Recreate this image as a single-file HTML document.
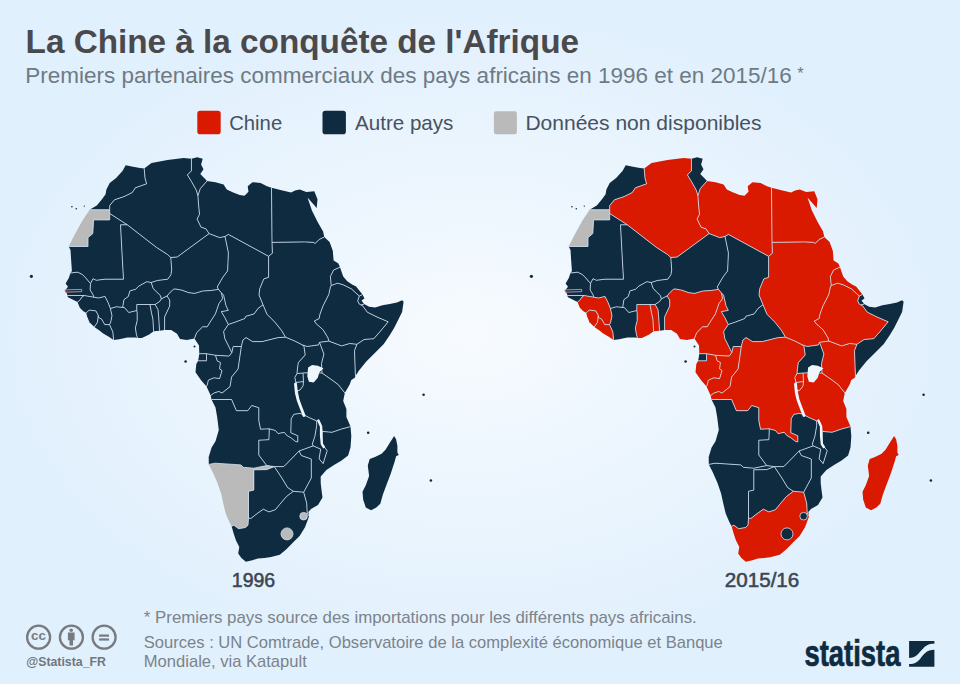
<!DOCTYPE html>
<html><head><meta charset="utf-8"><style>
html,body{margin:0;padding:0;width:960px;height:684px;overflow:hidden}
body{background:radial-gradient(ellipse 50% 48% at 49% 49%, #f7fbff 0%, #eff7fe 35%, #e1f0fd 100%)}
svg{display:block}
</style></head><body>
<svg width="960" height="684" viewBox="0 0 960 684">
<path d="M89.6,209.8 96.8,205.5 101.6,199.8 105.6,194.2 106.4,189.4 109.7,183 116.1,178.1 122.5,170.9 125.7,165.3 133,166.8 140,168 144.2,168.5 145,178.1 146.6,183.8 135.4,187.8 132.2,192.6 124.1,196.6 114.5,199.8 109.7,205.5 109.7,209.8Z" fill="#0f2b40"/>
<path d="M68.7,246.5 74.3,235.2 82.3,220.7 89.6,209.8 109.7,209.8 109.7,213.5 109.7,219.9 93.6,219.9 92.8,233.6 88,237.6 88,246.5Z" fill="#bababa"/>
<path d="M144.2,168.5 151.5,162.9 167.5,160 183.6,158 191.5,158.8 191.4,170.9 187.4,174.9 191.4,181.4 196.3,190.2 197.9,195.8 198.7,206.3 199.5,214.3 197.1,219.1 201.1,227.2 205.9,228.8 209.1,233.6 177.2,257 170.8,257.5 167.5,254.5 156.3,247.3 127.3,224.8 109.7,213.5 109.7,209.8 109.7,205.5 114.5,199.8 124.1,196.6 132.2,192.6 135.4,187.8 146.6,183.8 145,178.1Z" fill="#0f2b40"/>
<path d="M191.5,158.8 197.1,157.2 202.7,158.8 201.1,164.5 203.5,169.3 200.3,174.1 205.9,179.7 207,181 200.3,188.6 197.9,195.8 196.3,190.2 191.4,181.4 187.4,174.9 191.4,170.9Z" fill="#0f2b40"/>
<path d="M207,181 215.5,182.2 223.6,184.6 226.8,189.4 233.2,192.6 239.7,195 244.5,195.8 248.5,191.8 247.7,186.2 252.5,182.2 260.6,183 267,186.2 271.5,187.8 272,242.4 272.4,253.2 268.6,256.3 228.4,234.4 225,236.5 219.6,237.6 209.1,233.6 205.9,228.8 201.1,227.2 197.1,219.1 199.5,214.3 198.7,206.3 197.9,195.8 200.3,188.6Z" fill="#0f2b40"/>
<path d="M271.5,187.8 281.5,190.2 291.1,192.6 295,190.5 299.8,189.6 306.3,192.1 314.3,191.3 317.5,199.3 316.7,208.1 307.5,197.5 311.9,210.5 317.5,221.8 323.1,231.4 324.3,237 319.1,239.5 315.1,243.5 313.6,242.4 304.6,241.9 272,242.4Z" fill="#0f2b40"/>
<path d="M324.3,237 329.6,241.9 332.8,250.7 333.6,260.4 338.4,263.6 340,267.2 333.6,270 330.4,276.5 331.2,285.5 330.4,287 328.8,294.5 323.1,305.7 320,314 319.1,318.6 314.3,321 315.9,323.4 323.1,329.8 328,337.9 328.8,341.1 319.5,342.3 318.4,344.9 307.2,346.5 302.4,344.9 294.3,340.8 285.5,337.2 281.5,330.4 275,322.3 267,314.3 263,304.7 259,295 259.8,288.6 263.8,278.9 268.6,277.3 268.6,256.3 272.4,253.2 272,242.4 304.6,241.9 313.6,242.4 315.1,243.5 319.1,239.5Z" fill="#0f2b40"/>
<path d="M340,267.2 343.2,276.5 347.3,281.3 352.1,284.5 356.1,286.4 362.5,294.5 359.3,296.1 351.3,288.8 343.2,284.8 337.6,283.2 331.2,285.5 330.4,276.5 333.6,270Z" fill="#0f2b40"/>
<path d="M362.5,294.5 364.5,298.5 361.5,300.5 364.1,304.1 361,305 359.3,304.1 357.7,300.9 359.3,296.1Z" fill="#0f2b40"/>
<path d="M331.2,285.5 337.6,283.2 343.2,284.8 351.3,288.8 359.3,296.1 357.7,300.9 359.3,304.1 361,305 362.5,305.7 367.3,312.2 377,317 388.2,321.8 380.2,331.4 373.8,338.7 364.1,339.5 356.9,344.3 349.7,343.5 341.6,345.9 328.8,341.1 328,337.9 323.1,329.8 315.9,323.4 314.3,321 319.1,318.6 320,314 323.1,305.7 328.8,294.5 330.4,287Z" fill="#0f2b40"/>
<path d="M364.1,304.1 369.2,306.8 375.1,307.5 382.4,305.3 389.7,303.9 397,302.4 402.1,300.2 403.6,301.7 402.1,311.9 398.5,319.2 394.1,328 389.7,335.3 383.8,344.1 375.1,352.8 366.3,361.6 359,370.4 355.5,376 355.3,373.2 354.5,350.7 356.9,344.3 364.1,339.5 373.8,338.7 380.2,331.4 388.2,321.8 377,317 367.3,312.2 362.5,305.7 361,305Z" fill="#0f2b40"/>
<path d="M355.5,376 354.5,378.1 351.3,380 349.7,384.5 344.8,392.9 338.4,384.8 332,380 322,373 321.5,363.6 323.9,354 319.5,342.3 328.8,341.1 341.6,345.9 349.7,343.5 356.9,344.3 354.5,350.7 355.3,373.2Z" fill="#0f2b40"/>
<path d="M344.8,392.9 343.2,400.9 346.4,408.9 346.4,417 350.5,426.6 341.6,429 332,432.3 322.3,431.4 321.1,426.6 318.4,420.4 316.7,420.9 309.6,417.8 303.5,414.7 301.2,408.2 298.3,400.6 297.5,391 300,390 303,386 303.5,381.5 303,373 307.9,372.8 322,373 332,380 338.4,384.8Z" fill="#0f2b40"/>
<path d="M319.5,342.3 323.9,354 321.5,363.6 322,373 307.9,372.8 303,373 297,373.5 297.4,369 298.3,362.6 305.2,355 304,346.5 302.4,344.9 307.2,346.5 318.4,344.9Z" fill="#0f2b40"/>
<path d="M297,373.5 303,373 303.5,381.5 296,382.5 294.8,377.5Z" fill="#0f2b40"/>
<path d="M296,382.5 303.5,381.5 303,386 300,390 297.5,391 295.8,387Z" fill="#0f2b40"/>
<path d="M350.5,426.6 351.3,436.3 350.5,447.5 348.1,455.6 341.6,460.4 333.6,465.2 326.4,470 320.7,476.5 320.7,482.9 321.5,490 322.5,497.5 318,505 311,509 308.3,512 309,516 307.2,513 306.7,503.2 303.7,492.2 311.3,478 311.3,459 301.4,455.6 299,451 313.2,445.9 320.7,449.1 319.1,458.8 323.1,463.6 327.2,450.7 324.7,447.5 322,444 322.3,431.4 332,432.3 341.6,429Z" fill="#0f2b40"/>
<path d="M316.7,420.9 318.4,420.4 321.1,426.6 322.3,431.4 322,444 324.7,447.5 327.2,450.7 323.1,463.6 319.1,458.8 320.7,449.1 313.2,445.9 312.3,444.1 314.9,436.2 316.7,425.7Z" fill="#0f2b40"/>
<path d="M269.3,428.8 275.4,430.5 278.1,433.6 284.2,432.3 286.8,435.4 291.2,438 295.6,441.5 297.8,441.9 297.8,435.8 290.8,432.7 291.2,418.7 293.9,414.3 300,413.4 303.5,414.7 309.6,417.8 316.7,420.9 316.7,425.7 314.9,436.2 312.3,444.1 313.2,445.9 299,451 294.2,456.1 283.8,466.6 274.3,466.6 266.7,465.6 258.8,455 258.8,440.2 268.9,439.7Z" fill="#0f2b40"/>
<path d="M274.3,466.6 283.8,466.6 294.2,456.1 299,451 301.4,455.6 311.3,459 311.3,478 303.7,492.2 293.3,491.3 287.6,487.5 281.9,478Z" fill="#0f2b40"/>
<path d="M274.3,466.6 281.9,478 287.6,487.5 293.3,491.3 286.4,496.6 279.8,504.3 275.4,509.7 268.9,511.9 263.4,509.2 257.9,513 250.8,518.5 248.5,518 248.5,508 248.5,491.3 253.8,490.1 253.8,469.8 266.7,469.6Z" fill="#0f2b40"/>
<path d="M231.6,526.3 229.2,521.7 225.7,513.5 223.4,504.1 221.1,493.6 217.5,483.1 212.9,472.5 208.8,464.4 215.2,463.2 240.9,464.9 243.3,467.3 253.8,468.2 266.7,465.6 274.3,466.6 266.7,469.6 253.8,469.8 253.8,490.1 248.5,491.3 248.5,508 248.5,518 248,525.2 245.6,527.5 238.6,528.7 233.9,525.2Z" fill="#bababa"/>
<path d="M309,516 308.3,518.5 305,527.3 299.6,536.1 293,542.6 286.4,549.2 279.8,554.7 271.1,556.9 264.5,558 257.9,558.5 252.4,560.2 245.8,561.8 241.4,558 238.2,553.6 239.3,547 236,540.4 233.8,533.9 231.6,526.3 233.9,525.2 238.6,528.7 245.6,527.5 248,525.2 248.5,518 250.8,518.5 257.9,513 263.4,509.2 268.9,511.9 275.4,509.7 279.8,504.3 286.4,496.6 293.3,491.3 303.7,492.2 306.7,503.2 307.2,513Z" fill="#0f2b40"/>
<path d="M211.5,399.5 215.5,407.5 217.2,417.2 218.8,430 215.5,441.3 211.6,447.6 208.7,457.1 208.8,464.4 215.2,463.2 240.9,464.9 243.3,467.3 253.8,468.2 266.7,465.6 258.8,455 258.8,440.2 268.9,439.7 269.3,428.8 260.5,429.2 258.8,420.4 258.8,407.7 251.8,405.5 247.7,410.7 236.4,410.7 231.6,399.5Z" fill="#0f2b40"/>
<path d="M210.7,395.5 211.5,399.5 231.6,399.5 236.4,410.7 247.7,410.7 251.8,405.5 258.8,407.7 258.8,420.4 260.5,429.2 269.3,428.8 275.4,430.5 278.1,433.6 284.2,432.3 286.8,435.4 291.2,438 295.6,441.5 297.8,441.9 297.8,435.8 290.8,432.7 291.2,418.7 293.9,414.3 300,413.4 303.5,414.7 301.2,408.2 298.3,400.6 297.5,391 295.8,387 296,382.5 294.8,377.5 297,373.5 297.4,369 298.3,362.6 305.2,355 304,346.5 302.4,344.9 294.3,340.8 285.5,337.2 278.2,337.6 262.2,341.6 252.5,341.6 246.1,337.6 242.9,340 241.3,346.5 238.1,368.9 231.6,377 230,386.6 222,393.1 218.8,391.4 213.9,393.1Z" fill="#0f2b40"/>
<path d="M206.5,386.6 210.7,395.5 213.9,393.1 218.8,391.4 222,393.1 230,386.6 231.6,377 238.1,368.9 241.3,346.5 233.2,346.5 231.8,352.6 229.2,356.1 215.5,355.3 217.2,360.9 220.4,362.5 219.6,368.9 222,370.5 219.6,378.6 213.9,377.8 208.3,380.2 207.5,384Z" fill="#0f2b40"/>
<path d="M198.2,360.8 196.3,364.1 195.5,372.2 201.1,380.2 206.5,386.6 207.5,384 208.3,380.2 213.9,377.8 219.6,378.6 222,370.5 219.6,368.9 220.4,362.5 217.2,360.9 215.5,355.3 206.5,353.7 206.5,360.8Z" fill="#0f2b40"/>
<path d="M199.3,353.7 198.2,360.8 206.5,360.8 206.5,353.7Z" fill="#0f2b40"/>
<path d="M194.4,338.5 199,345.6 199.3,353.7 206.5,353.7 215.5,355.3 229.2,356.1 231.8,352.6 229.5,347.9 224.8,338.5 223.6,331.5 228.3,324.5 224.8,317.5 221.3,311.6 228.3,310.4 226,305.8 223.6,295.2 221.5,293 222.5,298.7 219,303.4 215.4,313.9 210.8,321 207.2,326.8 202.6,326.8 196.7,332.7Z" fill="#0f2b40"/>
<path d="M228.3,324.5 235.3,322.1 244.7,318.6 245.9,316.3 254.1,313.9 258,308.5 263,304.7 267,314.3 275,322.3 281.5,330.4 285.5,337.2 278.2,337.6 262.2,341.6 252.5,341.6 246.1,337.6 242.9,340 241.3,346.5 233.2,346.5 231.8,352.6 229.5,347.9 224.8,338.5 223.6,331.5Z" fill="#0f2b40"/>
<path d="M218.5,289.4 217.2,287 222.8,277.3 227.6,270.9 228.4,252.9 225,236.5 228.4,234.4 268.6,256.3 268.6,277.3 263.8,278.9 259.8,288.6 259,295 263,304.7 258,308.5 254.1,313.9 245.9,316.3 244.7,318.6 235.3,322.1 228.3,324.5 224.8,317.5 221.3,311.6 228.3,310.4 226,305.8 223.6,295.2 221.5,293Z" fill="#0f2b40"/>
<path d="M170.8,257.5 177.2,257 209.1,233.6 219.6,237.6 225,236.5 228.4,252.9 227.6,270.9 222.8,277.3 217.2,287 218.5,289.4 210.7,290.5 202.7,291 194.6,293.4 188.4,292.6 182,290.2 175,288.9 173.3,289.3 169.3,293.3 167,296 164,297.5 161.3,298.9 160.5,295.7 156.4,291.7 153.2,288.5 151.2,282.5 157.3,280.5 167.7,279.2 170.9,274.8 171.7,270Z" fill="#0f2b40"/>
<path d="M164.6,330.1 171.2,330.1 177,333.7 180,338.9 186.8,340 194.4,338.5 196.7,332.7 202.6,326.8 207.2,326.8 210.8,321 215.4,313.9 219,303.4 222.5,298.7 221.5,293 218.5,289.4 210.7,290.5 202.7,291 194.6,293.4 188.4,292.6 182,290.2 175,288.9 173.3,289.3 169.3,293.3 167,296 169.7,300 169.7,306 164.6,316.9Z" fill="#0f2b40"/>
<path d="M159.5,330.8 164.6,330.1 164.6,316.9 169.7,306 169.7,300 167,296 164,297.5 161.3,298.9 159.7,301.4 155.1,304.5 158,309.6 158.7,316.9Z" fill="#0f2b40"/>
<path d="M153.6,331.2 159.5,330.8 158.7,316.9 158,309.6 155.1,304.5 150,304.5 151.4,312.5 152.9,319.1Z" fill="#0f2b40"/>
<path d="M137.5,338.1 141.9,338.1 149.2,334.5 153.6,331.2 152.9,319.1 151.4,312.5 150,304.5 136.8,304.5 136.8,310.5 137.2,313.3 137.2,320.6 135.4,327.9 136.4,334.5Z" fill="#0f2b40"/>
<path d="M122.7,307.4 123.9,299.7 128.3,296.5 129.9,290.9 135.5,289.3 138.8,286.1 146.8,281.7 151.2,282.5 153.2,288.5 156.4,291.7 160.5,295.7 161.3,298.9 159.7,301.4 155.1,304.5 150,304.5 136.8,304.5 136.8,310.5 128.8,312.5 124.4,307.6Z" fill="#0f2b40"/>
<path d="M113.6,339.9 119.3,339.2 127.3,337.6 135.4,337.6 137.5,338.1 136.4,334.5 135.4,327.9 137.2,320.6 137.2,313.3 136.8,310.5 128.8,312.5 124.4,307.6 122.7,307.4 116.3,306.8 110.4,308.5 112,315.7 110.6,322.5 109.5,324.6 112.8,331.8Z" fill="#0f2b40"/>
<path d="M94.3,327 99.1,330.2 103.2,333.4 108.8,336.7 113.6,339.9 112.8,331.8 109.5,324.6 104.8,324.6 101.5,319 98.3,317.4 98.3,315.5 97.5,322.2Z" fill="#0f2b40"/>
<path d="M86.3,313 87.1,316.5 89.5,322.2 94.3,327 97.5,322.2 98.3,315.5 95.9,310.9 89.5,310.1 87.5,311.5Z" fill="#0f2b40"/>
<path d="M77.5,302 79.8,307.7 83,310.9 86.3,313 87.5,311.5 89.5,310.1 95.9,310.9 98.3,315.5 98.3,317.4 101.5,319 104.8,324.6 109.5,324.6 110.6,322.5 112,315.7 110.4,308.5 108.2,302.8 105,296.4 98.6,298 93.8,297.2 84.1,295.5 82,297 79.5,300.5Z" fill="#0f2b40"/>
<path d="M77.5,302 68,297.2 67.2,295.5 84.1,295.5 82,297 79.5,300.5Z" fill="#0f2b40"/>
<path d="M67.2,295.5 67.2,293.9 64.8,290.7 68,286.7 65.6,283.5 68.8,277.9 70.5,273 77.7,272.2 82.5,274.6 85.7,277.9 90.5,283.5 90.1,289.9 93,294.7 93.8,297.2 84.1,295.5Z" fill="#0f2b40"/>
<path d="M127.3,224.8 156.3,247.3 167.5,254.5 170.8,257.5 171.7,270 170.9,274.8 167.7,279.2 157.3,280.5 151.2,282.5 146.8,281.7 138.8,286.1 135.5,289.3 129.9,290.9 128.3,296.5 123.9,299.7 122.7,307.4 116.3,306.8 110.4,308.5 108.2,302.8 105,296.4 98.6,298 93.8,297.2 93,294.7 90.1,289.9 90.5,283.5 93,278.7 96.2,280.3 105,279.2 123.5,279.2 122.5,262 120.5,224.8Z" fill="#0f2b40"/>
<path d="M68.7,246.5 70.5,250 71.1,259.6 71.9,270.9 70.5,273 77.7,272.2 82.5,274.6 85.7,277.9 90.5,283.5 93,278.7 96.2,280.3 105,279.2 123.5,279.2 122.5,262 120.5,224.8 127.3,224.8 109.7,213.5 109.7,219.9 93.6,219.9 92.8,233.6 88,237.6 88,246.5Z" fill="#0f2b40"/>
<circle cx="287" cy="533.9" r="6" fill="#bababa"/>
<circle cx="303.6" cy="516.2" r="3.8" fill="#bababa"/>
<path d="M144.2,168.5 145,178.1 146.6,183.8 135.4,187.8 132.2,192.6 124.1,196.6 114.5,199.8 109.7,205.5 109.7,209.8 M89.6,209.8 109.7,209.8 M109.7,209.8 109.7,213.5 M109.7,213.5 109.7,219.9 93.6,219.9 92.8,233.6 88,237.6 88,246.5 68.7,246.5 M109.7,213.5 127.3,224.8 M127.3,224.8 120.5,224.8 122.5,262 123.5,279.2 105,279.2 96.2,280.3 93,278.7 90.5,283.5 M127.3,224.8 156.3,247.3 167.5,254.5 170.8,257.5 M70.5,273 77.7,272.2 82.5,274.6 85.7,277.9 90.5,283.5 M90.5,283.5 90.1,289.9 93,294.7 93.8,297.2 M67.2,295.5 84.1,295.5 M84.1,295.5 93.8,297.2 M84.1,295.5 82,297 79.5,300.5 77.5,302 M93.8,297.2 98.6,298 105,296.4 108.2,302.8 110.4,308.5 M110.4,308.5 112,315.7 110.6,322.5 109.5,324.6 M86.3,313 87.5,311.5 89.5,310.1 95.9,310.9 98.3,315.5 M98.3,315.5 97.5,322.2 94.3,327 M98.3,315.5 98.3,317.4 101.5,319 104.8,324.6 109.5,324.6 M109.5,324.6 112.8,331.8 113.6,339.9 M110.4,308.5 116.3,306.8 122.7,307.4 M122.7,307.4 123.9,299.7 128.3,296.5 129.9,290.9 135.5,289.3 138.8,286.1 146.8,281.7 151.2,282.5 M122.7,307.4 124.4,307.6 128.8,312.5 136.8,310.5 M136.8,310.5 137.2,313.3 137.2,320.6 135.4,327.9 136.4,334.5 137.5,338.1 M136.8,310.5 136.8,304.5 150,304.5 M150,304.5 151.4,312.5 152.9,319.1 153.6,331.2 M150,304.5 155.1,304.5 M155.1,304.5 158,309.6 158.7,316.9 159.5,330.8 M155.1,304.5 159.7,301.4 161.3,298.9 M151.2,282.5 153.2,288.5 156.4,291.7 160.5,295.7 161.3,298.9 M161.3,298.9 164,297.5 167,296 M167,296 169.7,300 169.7,306 164.6,316.9 164.6,330.1 M170.8,257.5 171.7,270 170.9,274.8 167.7,279.2 157.3,280.5 151.2,282.5 M170.8,257.5 177.2,257 209.1,233.6 M191.5,158.8 191.4,170.9 187.4,174.9 191.4,181.4 196.3,190.2 197.9,195.8 M207,181 200.3,188.6 197.9,195.8 M197.9,195.8 198.7,206.3 199.5,214.3 197.1,219.1 201.1,227.2 205.9,228.8 209.1,233.6 M209.1,233.6 219.6,237.6 225,236.5 M225,236.5 228.4,234.4 268.6,256.3 M268.6,256.3 272.4,253.2 272,242.4 M271.5,187.8 272,242.4 M272,242.4 304.6,241.9 313.6,242.4 315.1,243.5 319.1,239.5 324.3,237 M167,296 169.3,293.3 173.3,289.3 175,288.9 182,290.2 188.4,292.6 194.6,293.4 202.7,291 210.7,290.5 218.5,289.4 M225,236.5 228.4,252.9 227.6,270.9 222.8,277.3 217.2,287 218.5,289.4 M268.6,256.3 268.6,277.3 263.8,278.9 259.8,288.6 259,295 263,304.7 M218.5,289.4 221.5,293 M221.5,293 222.5,298.7 219,303.4 215.4,313.9 210.8,321 207.2,326.8 202.6,326.8 196.7,332.7 194.4,338.5 M221.5,293 223.6,295.2 226,305.8 228.3,310.4 221.3,311.6 224.8,317.5 228.3,324.5 M228.3,324.5 235.3,322.1 244.7,318.6 245.9,316.3 254.1,313.9 258,308.5 263,304.7 M263,304.7 267,314.3 275,322.3 281.5,330.4 285.5,337.2 M228.3,324.5 223.6,331.5 224.8,338.5 229.5,347.9 231.8,352.6 M231.8,352.6 233.2,346.5 241.3,346.5 M241.3,346.5 242.9,340 246.1,337.6 252.5,341.6 262.2,341.6 278.2,337.6 285.5,337.2 M285.5,337.2 294.3,340.8 302.4,344.9 M302.4,344.9 307.2,346.5 318.4,344.9 319.5,342.3 M319.5,342.3 328.8,341.1 M328.8,341.1 328,337.9 323.1,329.8 315.9,323.4 314.3,321 319.1,318.6 320,314 323.1,305.7 328.8,294.5 330.4,287 331.2,285.5 M331.2,285.5 330.4,276.5 333.6,270 340,267.2 M331.2,285.5 337.6,283.2 343.2,284.8 351.3,288.8 359.3,296.1 M359.3,296.1 362.5,294.5 M359.3,296.1 357.7,300.9 359.3,304.1 361,305 M361,305 364.1,304.1 M361,305 362.5,305.7 367.3,312.2 377,317 388.2,321.8 380.2,331.4 373.8,338.7 364.1,339.5 356.9,344.3 M328.8,341.1 341.6,345.9 349.7,343.5 356.9,344.3 M356.9,344.3 354.5,350.7 355.3,373.2 355.5,376 M319.5,342.3 323.9,354 321.5,363.6 322,373 M322,373 332,380 338.4,384.8 344.8,392.9 M322,373 307.9,372.8 303,373 M302.4,344.9 304,346.5 305.2,355 298.3,362.6 297.4,369 297,373.5 M297,373.5 303,373 M303,373 303.5,381.5 M303.5,381.5 296,382.5 M297,373.5 294.8,377.5 296,382.5 M296,382.5 295.8,387 297.5,391 M303.5,381.5 303,386 300,390 297.5,391 M199.3,353.7 206.5,353.7 M206.5,353.7 206.5,360.8 198.2,360.8 M206.5,353.7 215.5,355.3 M215.5,355.3 229.2,356.1 231.8,352.6 M215.5,355.3 217.2,360.9 220.4,362.5 219.6,368.9 222,370.5 219.6,378.6 213.9,377.8 208.3,380.2 207.5,384 206.5,386.6 M241.3,346.5 238.1,368.9 231.6,377 230,386.6 222,393.1 218.8,391.4 213.9,393.1 210.7,395.5 M211.5,399.5 231.6,399.5 236.4,410.7 247.7,410.7 251.8,405.5 258.8,407.7 258.8,420.4 260.5,429.2 269.3,428.8 M269.3,428.8 275.4,430.5 278.1,433.6 284.2,432.3 286.8,435.4 291.2,438 295.6,441.5 297.8,441.9 297.8,435.8 290.8,432.7 291.2,418.7 293.9,414.3 300,413.4 303.5,414.7 M297.5,391 298.3,400.6 301.2,408.2 303.5,414.7 M303.5,414.7 309.6,417.8 316.7,420.9 M316.7,420.9 316.7,425.7 314.9,436.2 312.3,444.1 313.2,445.9 M316.7,420.9 318.4,420.4 321.1,426.6 322.3,431.4 M322.3,431.4 332,432.3 341.6,429 350.5,426.6 M322.3,431.4 322,444 324.7,447.5 327.2,450.7 323.1,463.6 319.1,458.8 320.7,449.1 313.2,445.9 M313.2,445.9 299,451 M299,451 294.2,456.1 283.8,466.6 274.3,466.6 M299,451 301.4,455.6 311.3,459 311.3,478 303.7,492.2 M274.3,466.6 281.9,478 287.6,487.5 293.3,491.3 M293.3,491.3 303.7,492.2 M269.3,428.8 268.9,439.7 258.8,440.2 258.8,455 266.7,465.6 M208.8,464.4 215.2,463.2 240.9,464.9 243.3,467.3 253.8,468.2 266.7,465.6 M266.7,465.6 274.3,466.6 M274.3,466.6 266.7,469.6 253.8,469.8 253.8,490.1 248.5,491.3 248.5,508 248.5,518 M248.5,518 248,525.2 245.6,527.5 238.6,528.7 233.9,525.2 231.6,526.3 M248.5,518 250.8,518.5 257.9,513 263.4,509.2 268.9,511.9 275.4,509.7 279.8,504.3 286.4,496.6 293.3,491.3 M303.7,492.2 306.7,503.2 307.2,513 309,516 M281,533.9a6,6 0 1,0 12,0a6,6 0 1,0 -12,0 M299.8,516.2a3.8,3.8 0 1,0 7.6,0a3.8,3.8 0 1,0 -7.6,0" fill="none" stroke="#cfe0f2" stroke-opacity="0.82" stroke-width="1" stroke-linejoin="round"/>
<path d="M64.8,289.9 L81.7,289.4 L81.7,291.6 L65.5,292.2Z" fill="#0f2b40" stroke="#f0a0a8" stroke-width="0.8"/>
<path d="M308.1,367.4 L312.1,364.9 L317.8,365.7 L323.4,368.2 L319.4,372.2 L317.8,377.8 L313.7,382.6 L308.9,381.8 L307.3,376.2Z" fill="#eef6fe"/>
<path d="M295.5,384 L296.4,393 L298.3,400.6 L301.2,408.2 L304,415.5" fill="none" stroke="#eef6fe" stroke-width="2.9" stroke-linecap="round"/>
<path d="M318.4,420.6 L321.1,426.6 L321.1,435.4 L321.9,444.1 L323.8,447" fill="none" stroke="#eef6fe" stroke-width="2.4" stroke-linecap="round"/>
<circle cx="31.4" cy="276.3" r="1.6" fill="#0f2b40"/>
<circle cx="185.6" cy="361.5" r="1.3" fill="#0f2b40"/>
<circle cx="194.5" cy="346.5" r="1.0" fill="#0f2b40"/>
<circle cx="368.2" cy="432.7" r="1.3" fill="#0f2b40"/>
<circle cx="423.6" cy="394.8" r="1.3" fill="#0f2b40"/>
<circle cx="430.9" cy="480.5" r="1.3" fill="#0f2b40"/>
<circle cx="71.9" cy="206.8" r="0.8" fill="#0f2b40"/>
<circle cx="76.3" cy="208.7" r="0.8" fill="#0f2b40"/>
<circle cx="84.3" cy="206.1" r="0.7" fill="#0f2b40"/>
<path d="M394.1,435.9 396.1,439.2 397.4,445.8 397.4,452.4 398.7,455 396.1,456.3 394.7,461.6 390.8,473.4 386.8,483.9 382.9,494.5 380.3,503.7 376.3,507.6 371.1,510.3 365.8,507.6 363.2,499.7 362.5,491.8 365.8,485.3 369.1,476.1 367.8,465.5 369.7,458.9 375,457 381.6,453.7 385.5,449.7 389.5,443.2 392.1,439.2Z" fill="#0f2b40"/>
<path d="M589.6,209.8 596.8,205.5 601.6,199.8 605.6,194.2 606.4,189.4 609.7,183 616.1,178.1 622.5,170.9 625.7,165.3 633,166.8 640,168 644.2,168.5 645,178.1 646.6,183.8 635.4,187.8 632.2,192.6 624.1,196.6 614.5,199.8 609.7,205.5 609.7,209.8Z" fill="#0f2b40"/>
<path d="M568.7,246.5 574.3,235.2 582.3,220.7 589.6,209.8 609.7,209.8 609.7,213.5 609.7,219.9 593.6,219.9 592.8,233.6 588,237.6 588,246.5Z" fill="#bababa"/>
<path d="M644.2,168.5 651.5,162.9 667.5,160 683.6,158 691.5,158.8 691.4,170.9 687.4,174.9 691.4,181.4 696.3,190.2 697.9,195.8 698.7,206.3 699.5,214.3 697.1,219.1 701.1,227.2 705.9,228.8 709.1,233.6 677.2,257 670.8,257.5 667.5,254.5 656.3,247.3 627.3,224.8 609.7,213.5 609.7,209.8 609.7,205.5 614.5,199.8 624.1,196.6 632.2,192.6 635.4,187.8 646.6,183.8 645,178.1Z" fill="#d91a00"/>
<path d="M691.5,158.8 697.1,157.2 702.7,158.8 701.1,164.5 703.5,169.3 700.3,174.1 705.9,179.7 707,181 700.3,188.6 697.9,195.8 696.3,190.2 691.4,181.4 687.4,174.9 691.4,170.9Z" fill="#0f2b40"/>
<path d="M707,181 715.5,182.2 723.6,184.6 726.8,189.4 733.2,192.6 739.7,195 744.5,195.8 748.5,191.8 747.7,186.2 752.5,182.2 760.6,183 767,186.2 771.5,187.8 772,242.4 772.4,253.2 768.6,256.3 728.4,234.4 725,236.5 719.6,237.6 709.1,233.6 705.9,228.8 701.1,227.2 697.1,219.1 699.5,214.3 698.7,206.3 697.9,195.8 700.3,188.6Z" fill="#d91a00"/>
<path d="M771.5,187.8 781.5,190.2 791.1,192.6 795,190.5 799.8,189.6 806.3,192.1 814.3,191.3 817.5,199.3 816.7,208.1 807.5,197.5 811.9,210.5 817.5,221.8 823.1,231.4 824.3,237 819.1,239.5 815.1,243.5 813.6,242.4 804.6,241.9 772,242.4Z" fill="#d91a00"/>
<path d="M824.3,237 829.6,241.9 832.8,250.7 833.6,260.4 838.4,263.6 840,267.2 833.6,270 830.4,276.5 831.2,285.5 830.4,287 828.8,294.5 823.1,305.7 820,314 819.1,318.6 814.3,321 815.9,323.4 823.1,329.8 828,337.9 828.8,341.1 819.5,342.3 818.4,344.9 807.2,346.5 802.4,344.9 794.3,340.8 785.5,337.2 781.5,330.4 775,322.3 767,314.3 763,304.7 759,295 759.8,288.6 763.8,278.9 768.6,277.3 768.6,256.3 772.4,253.2 772,242.4 804.6,241.9 813.6,242.4 815.1,243.5 819.1,239.5Z" fill="#d91a00"/>
<path d="M840,267.2 843.2,276.5 847.3,281.3 852.1,284.5 856.1,286.4 862.5,294.5 859.3,296.1 851.3,288.8 843.2,284.8 837.6,283.2 831.2,285.5 830.4,276.5 833.6,270Z" fill="#d91a00"/>
<path d="M862.5,294.5 864.5,298.5 861.5,300.5 864.1,304.1 861,305 859.3,304.1 857.7,300.9 859.3,296.1Z" fill="#0f2b40"/>
<path d="M831.2,285.5 837.6,283.2 843.2,284.8 851.3,288.8 859.3,296.1 857.7,300.9 859.3,304.1 861,305 862.5,305.7 867.3,312.2 877,317 888.2,321.8 880.2,331.4 873.8,338.7 864.1,339.5 856.9,344.3 849.7,343.5 841.6,345.9 828.8,341.1 828,337.9 823.1,329.8 815.9,323.4 814.3,321 819.1,318.6 820,314 823.1,305.7 828.8,294.5 830.4,287Z" fill="#d91a00"/>
<path d="M864.1,304.1 869.2,306.8 875.1,307.5 882.4,305.3 889.7,303.9 897,302.4 902.1,300.2 903.6,301.7 902.1,311.9 898.5,319.2 894.1,328 889.7,335.3 883.8,344.1 875.1,352.8 866.3,361.6 859,370.4 855.5,376 855.3,373.2 854.5,350.7 856.9,344.3 864.1,339.5 873.8,338.7 880.2,331.4 888.2,321.8 877,317 867.3,312.2 862.5,305.7 861,305Z" fill="#0f2b40"/>
<path d="M855.5,376 854.5,378.1 851.3,380 849.7,384.5 844.8,392.9 838.4,384.8 832,380 822,373 821.5,363.6 823.9,354 819.5,342.3 828.8,341.1 841.6,345.9 849.7,343.5 856.9,344.3 854.5,350.7 855.3,373.2Z" fill="#d91a00"/>
<path d="M844.8,392.9 843.2,400.9 846.4,408.9 846.4,417 850.5,426.6 841.6,429 832,432.3 822.3,431.4 821.1,426.6 818.4,420.4 816.7,420.9 809.6,417.8 803.5,414.7 801.2,408.2 798.3,400.6 797.5,391 800,390 803,386 803.5,381.5 803,373 807.9,372.8 822,373 832,380 838.4,384.8Z" fill="#d91a00"/>
<path d="M819.5,342.3 823.9,354 821.5,363.6 822,373 807.9,372.8 803,373 797,373.5 797.4,369 798.3,362.6 805.2,355 804,346.5 802.4,344.9 807.2,346.5 818.4,344.9Z" fill="#0f2b40"/>
<path d="M797,373.5 803,373 803.5,381.5 796,382.5 794.8,377.5Z" fill="#d91a00"/>
<path d="M796,382.5 803.5,381.5 803,386 800,390 797.5,391 795.8,387Z" fill="#d91a00"/>
<path d="M850.5,426.6 851.3,436.3 850.5,447.5 848.1,455.6 841.6,460.4 833.6,465.2 826.4,470 820.7,476.5 820.7,482.9 821.5,490 822.5,497.5 818,505 811,509 808.3,512 809,516 807.2,513 806.7,503.2 803.7,492.2 811.3,478 811.3,459 801.4,455.6 799,451 813.2,445.9 820.7,449.1 819.1,458.8 823.1,463.6 827.2,450.7 824.7,447.5 822,444 822.3,431.4 832,432.3 841.6,429Z" fill="#0f2b40"/>
<path d="M816.7,420.9 818.4,420.4 821.1,426.6 822.3,431.4 822,444 824.7,447.5 827.2,450.7 823.1,463.6 819.1,458.8 820.7,449.1 813.2,445.9 812.3,444.1 814.9,436.2 816.7,425.7Z" fill="#0f2b40"/>
<path d="M769.3,428.8 775.4,430.5 778.1,433.6 784.2,432.3 786.8,435.4 791.2,438 795.6,441.5 797.8,441.9 797.8,435.8 790.8,432.7 791.2,418.7 793.9,414.3 800,413.4 803.5,414.7 809.6,417.8 816.7,420.9 816.7,425.7 814.9,436.2 812.3,444.1 813.2,445.9 799,451 794.2,456.1 783.8,466.6 774.3,466.6 766.7,465.6 758.8,455 758.8,440.2 768.9,439.7Z" fill="#0f2b40"/>
<path d="M774.3,466.6 783.8,466.6 794.2,456.1 799,451 801.4,455.6 811.3,459 811.3,478 803.7,492.2 793.3,491.3 787.6,487.5 781.9,478Z" fill="#0f2b40"/>
<path d="M774.3,466.6 781.9,478 787.6,487.5 793.3,491.3 786.4,496.6 779.8,504.3 775.4,509.7 768.9,511.9 763.4,509.2 757.9,513 750.8,518.5 748.5,518 748.5,508 748.5,491.3 753.8,490.1 753.8,469.8 766.7,469.6Z" fill="#0f2b40"/>
<path d="M731.6,526.3 729.2,521.7 725.7,513.5 723.4,504.1 721.1,493.6 717.5,483.1 712.9,472.5 708.8,464.4 715.2,463.2 740.9,464.9 743.3,467.3 753.8,468.2 766.7,465.6 774.3,466.6 766.7,469.6 753.8,469.8 753.8,490.1 748.5,491.3 748.5,508 748.5,518 748,525.2 745.6,527.5 738.6,528.7 733.9,525.2Z" fill="#0f2b40"/>
<path d="M809,516 808.3,518.5 805,527.3 799.6,536.1 793,542.6 786.4,549.2 779.8,554.7 771.1,556.9 764.5,558 757.9,558.5 752.4,560.2 745.8,561.8 741.4,558 738.2,553.6 739.3,547 736,540.4 733.8,533.9 731.6,526.3 733.9,525.2 738.6,528.7 745.6,527.5 748,525.2 748.5,518 750.8,518.5 757.9,513 763.4,509.2 768.9,511.9 775.4,509.7 779.8,504.3 786.4,496.6 793.3,491.3 803.7,492.2 806.7,503.2 807.2,513Z" fill="#d91a00"/>
<path d="M711.5,399.5 715.5,407.5 717.2,417.2 718.8,430 715.5,441.3 711.6,447.6 708.7,457.1 708.8,464.4 715.2,463.2 740.9,464.9 743.3,467.3 753.8,468.2 766.7,465.6 758.8,455 758.8,440.2 768.9,439.7 769.3,428.8 760.5,429.2 758.8,420.4 758.8,407.7 751.8,405.5 747.7,410.7 736.4,410.7 731.6,399.5Z" fill="#0f2b40"/>
<path d="M710.7,395.5 711.5,399.5 731.6,399.5 736.4,410.7 747.7,410.7 751.8,405.5 758.8,407.7 758.8,420.4 760.5,429.2 769.3,428.8 775.4,430.5 778.1,433.6 784.2,432.3 786.8,435.4 791.2,438 795.6,441.5 797.8,441.9 797.8,435.8 790.8,432.7 791.2,418.7 793.9,414.3 800,413.4 803.5,414.7 801.2,408.2 798.3,400.6 797.5,391 795.8,387 796,382.5 794.8,377.5 797,373.5 797.4,369 798.3,362.6 805.2,355 804,346.5 802.4,344.9 794.3,340.8 785.5,337.2 778.2,337.6 762.2,341.6 752.5,341.6 746.1,337.6 742.9,340 741.3,346.5 738.1,368.9 731.6,377 730,386.6 722,393.1 718.8,391.4 713.9,393.1Z" fill="#d91a00"/>
<path d="M706.5,386.6 710.7,395.5 713.9,393.1 718.8,391.4 722,393.1 730,386.6 731.6,377 738.1,368.9 741.3,346.5 733.2,346.5 731.8,352.6 729.2,356.1 715.5,355.3 717.2,360.9 720.4,362.5 719.6,368.9 722,370.5 719.6,378.6 713.9,377.8 708.3,380.2 707.5,384Z" fill="#d91a00"/>
<path d="M698.2,360.8 696.3,364.1 695.5,372.2 701.1,380.2 706.5,386.6 707.5,384 708.3,380.2 713.9,377.8 719.6,378.6 722,370.5 719.6,368.9 720.4,362.5 717.2,360.9 715.5,355.3 706.5,353.7 706.5,360.8Z" fill="#d91a00"/>
<path d="M699.3,353.7 698.2,360.8 706.5,360.8 706.5,353.7Z" fill="#0f2b40"/>
<path d="M694.4,338.5 699,345.6 699.3,353.7 706.5,353.7 715.5,355.3 729.2,356.1 731.8,352.6 729.5,347.9 724.8,338.5 723.6,331.5 728.3,324.5 724.8,317.5 721.3,311.6 728.3,310.4 726,305.8 723.6,295.2 721.5,293 722.5,298.7 719,303.4 715.4,313.9 710.8,321 707.2,326.8 702.6,326.8 696.7,332.7Z" fill="#d91a00"/>
<path d="M728.3,324.5 735.3,322.1 744.7,318.6 745.9,316.3 754.1,313.9 758,308.5 763,304.7 767,314.3 775,322.3 781.5,330.4 785.5,337.2 778.2,337.6 762.2,341.6 752.5,341.6 746.1,337.6 742.9,340 741.3,346.5 733.2,346.5 731.8,352.6 729.5,347.9 724.8,338.5 723.6,331.5Z" fill="#0f2b40"/>
<path d="M718.5,289.4 717.2,287 722.8,277.3 727.6,270.9 728.4,252.9 725,236.5 728.4,234.4 768.6,256.3 768.6,277.3 763.8,278.9 759.8,288.6 759,295 763,304.7 758,308.5 754.1,313.9 745.9,316.3 744.7,318.6 735.3,322.1 728.3,324.5 724.8,317.5 721.3,311.6 728.3,310.4 726,305.8 723.6,295.2 721.5,293Z" fill="#0f2b40"/>
<path d="M670.8,257.5 677.2,257 709.1,233.6 719.6,237.6 725,236.5 728.4,252.9 727.6,270.9 722.8,277.3 717.2,287 718.5,289.4 710.7,290.5 702.7,291 694.6,293.4 688.4,292.6 682,290.2 675,288.9 673.3,289.3 669.3,293.3 667,296 664,297.5 661.3,298.9 660.5,295.7 656.4,291.7 653.2,288.5 651.2,282.5 657.3,280.5 667.7,279.2 670.9,274.8 671.7,270Z" fill="#0f2b40"/>
<path d="M664.6,330.1 671.2,330.1 677,333.7 680,338.9 686.8,340 694.4,338.5 696.7,332.7 702.6,326.8 707.2,326.8 710.8,321 715.4,313.9 719,303.4 722.5,298.7 721.5,293 718.5,289.4 710.7,290.5 702.7,291 694.6,293.4 688.4,292.6 682,290.2 675,288.9 673.3,289.3 669.3,293.3 667,296 669.7,300 669.7,306 664.6,316.9Z" fill="#d91a00"/>
<path d="M659.5,330.8 664.6,330.1 664.6,316.9 669.7,306 669.7,300 667,296 664,297.5 661.3,298.9 659.7,301.4 655.1,304.5 658,309.6 658.7,316.9Z" fill="#0f2b40"/>
<path d="M653.6,331.2 659.5,330.8 658.7,316.9 658,309.6 655.1,304.5 650,304.5 651.4,312.5 652.9,319.1Z" fill="#d91a00"/>
<path d="M637.5,338.1 641.9,338.1 649.2,334.5 653.6,331.2 652.9,319.1 651.4,312.5 650,304.5 636.8,304.5 636.8,310.5 637.2,313.3 637.2,320.6 635.4,327.9 636.4,334.5Z" fill="#d91a00"/>
<path d="M622.7,307.4 623.9,299.7 628.3,296.5 629.9,290.9 635.5,289.3 638.8,286.1 646.8,281.7 651.2,282.5 653.2,288.5 656.4,291.7 660.5,295.7 661.3,298.9 659.7,301.4 655.1,304.5 650,304.5 636.8,304.5 636.8,310.5 628.8,312.5 624.4,307.6Z" fill="#0f2b40"/>
<path d="M613.6,339.9 619.3,339.2 627.3,337.6 635.4,337.6 637.5,338.1 636.4,334.5 635.4,327.9 637.2,320.6 637.2,313.3 636.8,310.5 628.8,312.5 624.4,307.6 622.7,307.4 616.3,306.8 610.4,308.5 612,315.7 610.6,322.5 609.5,324.6 612.8,331.8Z" fill="#0f2b40"/>
<path d="M594.3,327 599.1,330.2 603.2,333.4 608.8,336.7 613.6,339.9 612.8,331.8 609.5,324.6 604.8,324.6 601.5,319 598.3,317.4 598.3,315.5 597.5,322.2Z" fill="#d91a00"/>
<path d="M586.3,313 587.1,316.5 589.5,322.2 594.3,327 597.5,322.2 598.3,315.5 595.9,310.9 589.5,310.1 587.5,311.5Z" fill="#d91a00"/>
<path d="M577.5,302 579.8,307.7 583,310.9 586.3,313 587.5,311.5 589.5,310.1 595.9,310.9 598.3,315.5 598.3,317.4 601.5,319 604.8,324.6 609.5,324.6 610.6,322.5 612,315.7 610.4,308.5 608.2,302.8 605,296.4 598.6,298 593.8,297.2 584.1,295.5 582,297 579.5,300.5Z" fill="#d91a00"/>
<path d="M577.5,302 568,297.2 567.2,295.5 584.1,295.5 582,297 579.5,300.5Z" fill="#0f2b40"/>
<path d="M567.2,295.5 567.2,293.9 564.8,290.7 568,286.7 565.6,283.5 568.8,277.9 570.5,273 577.7,272.2 582.5,274.6 585.7,277.9 590.5,283.5 590.1,289.9 593,294.7 593.8,297.2 584.1,295.5Z" fill="#0f2b40"/>
<path d="M627.3,224.8 656.3,247.3 667.5,254.5 670.8,257.5 671.7,270 670.9,274.8 667.7,279.2 657.3,280.5 651.2,282.5 646.8,281.7 638.8,286.1 635.5,289.3 629.9,290.9 628.3,296.5 623.9,299.7 622.7,307.4 616.3,306.8 610.4,308.5 608.2,302.8 605,296.4 598.6,298 593.8,297.2 593,294.7 590.1,289.9 590.5,283.5 593,278.7 596.2,280.3 605,279.2 623.5,279.2 622.5,262 620.5,224.8Z" fill="#0f2b40"/>
<path d="M568.7,246.5 570.5,250 571.1,259.6 571.9,270.9 570.5,273 577.7,272.2 582.5,274.6 585.7,277.9 590.5,283.5 593,278.7 596.2,280.3 605,279.2 623.5,279.2 622.5,262 620.5,224.8 627.3,224.8 609.7,213.5 609.7,219.9 593.6,219.9 592.8,233.6 588,237.6 588,246.5Z" fill="#0f2b40"/>
<circle cx="787" cy="533.9" r="6" fill="#0f2b40"/>
<circle cx="803.6" cy="516.2" r="3.8" fill="#0f2b40"/>
<path d="M644.2,168.5 645,178.1 646.6,183.8 635.4,187.8 632.2,192.6 624.1,196.6 614.5,199.8 609.7,205.5 609.7,209.8 M589.6,209.8 609.7,209.8 M609.7,209.8 609.7,213.5 M609.7,213.5 609.7,219.9 593.6,219.9 592.8,233.6 588,237.6 588,246.5 568.7,246.5 M609.7,213.5 627.3,224.8 M627.3,224.8 620.5,224.8 622.5,262 623.5,279.2 605,279.2 596.2,280.3 593,278.7 590.5,283.5 M627.3,224.8 656.3,247.3 667.5,254.5 670.8,257.5 M570.5,273 577.7,272.2 582.5,274.6 585.7,277.9 590.5,283.5 M590.5,283.5 590.1,289.9 593,294.7 593.8,297.2 M567.2,295.5 584.1,295.5 M584.1,295.5 593.8,297.2 M584.1,295.5 582,297 579.5,300.5 577.5,302 M593.8,297.2 598.6,298 605,296.4 608.2,302.8 610.4,308.5 M610.4,308.5 612,315.7 610.6,322.5 609.5,324.6 M586.3,313 587.5,311.5 589.5,310.1 595.9,310.9 598.3,315.5 M598.3,315.5 597.5,322.2 594.3,327 M598.3,315.5 598.3,317.4 601.5,319 604.8,324.6 609.5,324.6 M609.5,324.6 612.8,331.8 613.6,339.9 M610.4,308.5 616.3,306.8 622.7,307.4 M622.7,307.4 623.9,299.7 628.3,296.5 629.9,290.9 635.5,289.3 638.8,286.1 646.8,281.7 651.2,282.5 M622.7,307.4 624.4,307.6 628.8,312.5 636.8,310.5 M636.8,310.5 637.2,313.3 637.2,320.6 635.4,327.9 636.4,334.5 637.5,338.1 M636.8,310.5 636.8,304.5 650,304.5 M650,304.5 651.4,312.5 652.9,319.1 653.6,331.2 M650,304.5 655.1,304.5 M655.1,304.5 658,309.6 658.7,316.9 659.5,330.8 M655.1,304.5 659.7,301.4 661.3,298.9 M651.2,282.5 653.2,288.5 656.4,291.7 660.5,295.7 661.3,298.9 M661.3,298.9 664,297.5 667,296 M667,296 669.7,300 669.7,306 664.6,316.9 664.6,330.1 M670.8,257.5 671.7,270 670.9,274.8 667.7,279.2 657.3,280.5 651.2,282.5 M670.8,257.5 677.2,257 709.1,233.6 M691.5,158.8 691.4,170.9 687.4,174.9 691.4,181.4 696.3,190.2 697.9,195.8 M707,181 700.3,188.6 697.9,195.8 M697.9,195.8 698.7,206.3 699.5,214.3 697.1,219.1 701.1,227.2 705.9,228.8 709.1,233.6 M709.1,233.6 719.6,237.6 725,236.5 M725,236.5 728.4,234.4 768.6,256.3 M768.6,256.3 772.4,253.2 772,242.4 M771.5,187.8 772,242.4 M772,242.4 804.6,241.9 813.6,242.4 815.1,243.5 819.1,239.5 824.3,237 M667,296 669.3,293.3 673.3,289.3 675,288.9 682,290.2 688.4,292.6 694.6,293.4 702.7,291 710.7,290.5 718.5,289.4 M725,236.5 728.4,252.9 727.6,270.9 722.8,277.3 717.2,287 718.5,289.4 M768.6,256.3 768.6,277.3 763.8,278.9 759.8,288.6 759,295 763,304.7 M718.5,289.4 721.5,293 M721.5,293 722.5,298.7 719,303.4 715.4,313.9 710.8,321 707.2,326.8 702.6,326.8 696.7,332.7 694.4,338.5 M721.5,293 723.6,295.2 726,305.8 728.3,310.4 721.3,311.6 724.8,317.5 728.3,324.5 M728.3,324.5 735.3,322.1 744.7,318.6 745.9,316.3 754.1,313.9 758,308.5 763,304.7 M763,304.7 767,314.3 775,322.3 781.5,330.4 785.5,337.2 M728.3,324.5 723.6,331.5 724.8,338.5 729.5,347.9 731.8,352.6 M731.8,352.6 733.2,346.5 741.3,346.5 M741.3,346.5 742.9,340 746.1,337.6 752.5,341.6 762.2,341.6 778.2,337.6 785.5,337.2 M785.5,337.2 794.3,340.8 802.4,344.9 M802.4,344.9 807.2,346.5 818.4,344.9 819.5,342.3 M819.5,342.3 828.8,341.1 M828.8,341.1 828,337.9 823.1,329.8 815.9,323.4 814.3,321 819.1,318.6 820,314 823.1,305.7 828.8,294.5 830.4,287 831.2,285.5 M831.2,285.5 830.4,276.5 833.6,270 840,267.2 M831.2,285.5 837.6,283.2 843.2,284.8 851.3,288.8 859.3,296.1 M859.3,296.1 862.5,294.5 M859.3,296.1 857.7,300.9 859.3,304.1 861,305 M861,305 864.1,304.1 M861,305 862.5,305.7 867.3,312.2 877,317 888.2,321.8 880.2,331.4 873.8,338.7 864.1,339.5 856.9,344.3 M828.8,341.1 841.6,345.9 849.7,343.5 856.9,344.3 M856.9,344.3 854.5,350.7 855.3,373.2 855.5,376 M819.5,342.3 823.9,354 821.5,363.6 822,373 M822,373 832,380 838.4,384.8 844.8,392.9 M822,373 807.9,372.8 803,373 M802.4,344.9 804,346.5 805.2,355 798.3,362.6 797.4,369 797,373.5 M797,373.5 803,373 M803,373 803.5,381.5 M803.5,381.5 796,382.5 M797,373.5 794.8,377.5 796,382.5 M796,382.5 795.8,387 797.5,391 M803.5,381.5 803,386 800,390 797.5,391 M699.3,353.7 706.5,353.7 M706.5,353.7 706.5,360.8 698.2,360.8 M706.5,353.7 715.5,355.3 M715.5,355.3 729.2,356.1 731.8,352.6 M715.5,355.3 717.2,360.9 720.4,362.5 719.6,368.9 722,370.5 719.6,378.6 713.9,377.8 708.3,380.2 707.5,384 706.5,386.6 M741.3,346.5 738.1,368.9 731.6,377 730,386.6 722,393.1 718.8,391.4 713.9,393.1 710.7,395.5 M711.5,399.5 731.6,399.5 736.4,410.7 747.7,410.7 751.8,405.5 758.8,407.7 758.8,420.4 760.5,429.2 769.3,428.8 M769.3,428.8 775.4,430.5 778.1,433.6 784.2,432.3 786.8,435.4 791.2,438 795.6,441.5 797.8,441.9 797.8,435.8 790.8,432.7 791.2,418.7 793.9,414.3 800,413.4 803.5,414.7 M797.5,391 798.3,400.6 801.2,408.2 803.5,414.7 M803.5,414.7 809.6,417.8 816.7,420.9 M816.7,420.9 816.7,425.7 814.9,436.2 812.3,444.1 813.2,445.9 M816.7,420.9 818.4,420.4 821.1,426.6 822.3,431.4 M822.3,431.4 832,432.3 841.6,429 850.5,426.6 M822.3,431.4 822,444 824.7,447.5 827.2,450.7 823.1,463.6 819.1,458.8 820.7,449.1 813.2,445.9 M813.2,445.9 799,451 M799,451 794.2,456.1 783.8,466.6 774.3,466.6 M799,451 801.4,455.6 811.3,459 811.3,478 803.7,492.2 M774.3,466.6 781.9,478 787.6,487.5 793.3,491.3 M793.3,491.3 803.7,492.2 M769.3,428.8 768.9,439.7 758.8,440.2 758.8,455 766.7,465.6 M708.8,464.4 715.2,463.2 740.9,464.9 743.3,467.3 753.8,468.2 766.7,465.6 M766.7,465.6 774.3,466.6 M774.3,466.6 766.7,469.6 753.8,469.8 753.8,490.1 748.5,491.3 748.5,508 748.5,518 M748.5,518 748,525.2 745.6,527.5 738.6,528.7 733.9,525.2 731.6,526.3 M748.5,518 750.8,518.5 757.9,513 763.4,509.2 768.9,511.9 775.4,509.7 779.8,504.3 786.4,496.6 793.3,491.3 M803.7,492.2 806.7,503.2 807.2,513 809,516 M781,533.9a6,6 0 1,0 12,0a6,6 0 1,0 -12,0 M799.8,516.2a3.8,3.8 0 1,0 7.6,0a3.8,3.8 0 1,0 -7.6,0" fill="none" stroke="#cfe0f2" stroke-opacity="0.82" stroke-width="1" stroke-linejoin="round"/>
<path d="M564.8,289.9 L581.7,289.4 L581.7,291.6 L565.5,292.2Z" fill="#0f2b40" stroke="#f0a0a8" stroke-width="0.8"/>
<path d="M808.1,367.4 L812.1,364.9 L817.8,365.7 L823.4,368.2 L819.4,372.2 L817.8,377.8 L813.7,382.6 L808.9,381.8 L807.3,376.2Z" fill="#eef6fe"/>
<path d="M795.5,384 L796.4,393 L798.3,400.6 L801.2,408.2 L804,415.5" fill="none" stroke="#eef6fe" stroke-width="2.9" stroke-linecap="round"/>
<path d="M818.4,420.6 L821.1,426.6 L821.1,435.4 L821.9,444.1 L823.8,447" fill="none" stroke="#eef6fe" stroke-width="2.4" stroke-linecap="round"/>
<circle cx="531.4" cy="276.3" r="1.6" fill="#0f2b40"/>
<circle cx="685.6" cy="361.5" r="1.3" fill="#0f2b40"/>
<circle cx="694.5" cy="346.5" r="1.0" fill="#0f2b40"/>
<circle cx="868.2" cy="432.7" r="1.3" fill="#0f2b40"/>
<circle cx="923.6" cy="394.8" r="1.3" fill="#0f2b40"/>
<circle cx="930.9" cy="480.5" r="1.3" fill="#0f2b40"/>
<circle cx="571.9" cy="206.8" r="0.8" fill="#0f2b40"/>
<circle cx="576.3" cy="208.7" r="0.8" fill="#0f2b40"/>
<circle cx="584.3" cy="206.1" r="0.7" fill="#0f2b40"/>
<path d="M894.1,435.9 896.1,439.2 897.4,445.8 897.4,452.4 898.7,455 896.1,456.3 894.7,461.6 890.8,473.4 886.8,483.9 882.9,494.5 880.3,503.7 876.3,507.6 871.1,510.3 865.8,507.6 863.2,499.7 862.5,491.8 865.8,485.3 869.1,476.1 867.8,465.5 869.7,458.9 875,457 881.6,453.7 885.5,449.7 889.5,443.2 892.1,439.2Z" fill="#d91a00"/>
<text x="25.6" y="52.8" font-family="Liberation Sans, sans-serif" font-size="33" font-weight="bold" fill="#4a4a4d" text-anchor="start" textLength="553.4" lengthAdjust="spacingAndGlyphs">La Chine à la conquête de l'Afrique</text>
<text x="25.3" y="83.4" font-family="Liberation Sans, sans-serif" font-size="21.5" font-weight="normal" fill="#6f7a84" text-anchor="start" textLength="766.5" lengthAdjust="spacingAndGlyphs">Premiers partenaires commerciaux des pays africains en 1996 et en 2015/16</text>
<text x="797.2" y="79.2" font-family="Liberation Sans, sans-serif" font-size="16.5" font-weight="normal" fill="#6f7a84" text-anchor="start">*</text>
<rect x="197.3" y="110.8" width="23.4" height="23.4" rx="2.8" fill="#d91a00"/>
<rect x="322.5" y="110.8" width="23.4" height="23.4" rx="2.8" fill="#0f2b40"/>
<rect x="493.9" y="111.2" width="23" height="23" rx="2.2" fill="#bababa"/>
<text x="229.2" y="130.2" font-family="Liberation Sans, sans-serif" font-size="21" font-weight="normal" fill="#47525e" text-anchor="start" textLength="53" lengthAdjust="spacingAndGlyphs">Chine</text>
<text x="355" y="130.2" font-family="Liberation Sans, sans-serif" font-size="21" font-weight="normal" fill="#47525e" text-anchor="start" textLength="98.4" lengthAdjust="spacingAndGlyphs">Autre pays</text>
<text x="525.4" y="130.2" font-family="Liberation Sans, sans-serif" font-size="21" font-weight="normal" fill="#47525e" text-anchor="start" textLength="236.2" lengthAdjust="spacingAndGlyphs">Données non disponibles</text>
<text x="231.8" y="587.1" font-family="Liberation Sans, sans-serif" font-size="20" fill="#3d4650" stroke="#3d4650" stroke-width="0.55" textLength="43.4" lengthAdjust="spacingAndGlyphs">1996</text>
<text x="724.8" y="586.8" font-family="Liberation Sans, sans-serif" font-size="20" fill="#3d4650" stroke="#3d4650" stroke-width="0.55" textLength="74.5" lengthAdjust="spacingAndGlyphs">2015/16</text>
<text x="143.8" y="623" font-family="Liberation Sans, sans-serif" font-size="17" font-weight="normal" fill="#7b838b" text-anchor="start" textLength="553" lengthAdjust="spacingAndGlyphs">* Premiers pays source des importations pour les différents pays africains.</text>
<text x="143.8" y="648.3" font-family="Liberation Sans, sans-serif" font-size="17" font-weight="normal" fill="#7b838b" text-anchor="start" textLength="579" lengthAdjust="spacingAndGlyphs">Sources : UN Comtrade, Observatoire de la complexité économique et Banque</text>
<text x="143.8" y="667.3" font-family="Liberation Sans, sans-serif" font-size="17" font-weight="normal" fill="#7b838b" text-anchor="start" textLength="163" lengthAdjust="spacingAndGlyphs">Mondiale, via Katapult</text>
<circle cx="38.6" cy="637.2" r="11.5" fill="none" stroke="#777b7f" stroke-width="2.3"/>
<circle cx="71.4" cy="637.2" r="11.5" fill="none" stroke="#777b7f" stroke-width="2.3"/>
<circle cx="104.1" cy="637.2" r="11.5" fill="none" stroke="#777b7f" stroke-width="2.3"/>
<text x="38.6" y="640.4" font-family="Liberation Sans, sans-serif" font-size="13.5" font-weight="bold" fill="#777b7f" text-anchor="middle" textLength="15" lengthAdjust="spacingAndGlyphs">cc</text>
<circle cx="71.2" cy="630.2" r="1.8" fill="#777b7f"/>
<path d="M67.9,632.6 h6.7 v7.7 h-1.6 v5.2 h-3.5 v-5.2 h-1.6z" fill="#777b7f"/>
<rect x="99.1" y="634.5" width="9.9" height="2.2" fill="#777b7f"/>
<rect x="99.1" y="638.4" width="9.9" height="2.2" fill="#777b7f"/>
<text x="26.2" y="666.4" font-family="Liberation Sans, sans-serif" font-size="12.2" font-weight="bold" fill="#72777c" text-anchor="start" textLength="79.7" lengthAdjust="spacingAndGlyphs">@Statista_FR</text>
<text x="804.4" y="665.8" font-family="Liberation Sans, sans-serif" font-size="36.5" font-weight="bold" fill="#0f2b40" stroke="#0f2b40" stroke-width="0.7" textLength="96" lengthAdjust="spacingAndGlyphs">statista</text>
<g transform="translate(909.1,641.1)"><path d="M0,0H25.3V2.6C19,2.6 16.5,4.5 12.8,8.7C9,13 6.5,16.9 0,16.9Z" fill="#0f2b40"/><path d="M0,23C6,23 8.5,20.5 11.3,17.4C15,13 17.5,8.7 25.3,8.7V25.6H0Z" fill="#0f2b40"/></g>
</svg>
</body></html>
